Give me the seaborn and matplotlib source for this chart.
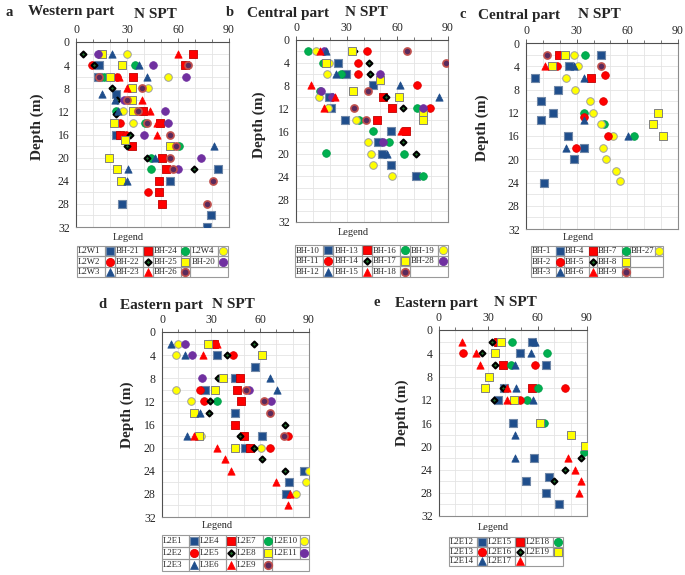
import matplotlib
matplotlib.use("Agg")
import matplotlib.pyplot as plt
import seaborn as sns
import pandas as pd
from matplotlib.patches import Rectangle
from matplotlib.ticker import MultipleLocator

W, H = 685, 575

# ---------------- data: (depth m, N SPT) ----------------
# a - Western part
a_L2W1 = [(4, 13.5), (6, 12.7), (9, 23.3), (16, 23.5), (22, 83.7), (24, 55.3), (28, 27.3), (30, 79.4), (32, 77.3)]
a_BH21 = [(2, 69), (4, 64), (6, 33.7), (12, 39.6), (14, 49.4), (16, 26), (18, 33.1), (20, 50.4), (22, 52.9), (24, 49), (26, 49), (28, 50.4)]
a_BH24 = [(4, 34.7), (6, 16.5), (12, 23.3), (14, 40.6), (18, 60.6), (20, 43.9), (22, 44.1)]
a_L2W4 = [(2, 30), (6, 54), (8, 42.5), (12, 27.8), (14, 33.3)]
a_L2W2 = [(4, 9.2), (6, 24.3), (14, 26), (16, 29.4), (26, 42.5)]
a_BH22 = [(2, 4), (4, 10.8), (8, 21), (10, 24.3), (12.5, 23.3), (16, 31.8), (18, 30.2), (20, 41.6), (22, 69.4)]
a_BH25 = [(2, 15), (4, 27), (6, 20), (8, 33), (10, 32.7), (12, 33.3), (14, 22.4), (17, 28.8), (18, 55.3), (20, 19.4), (22, 24.3), (24, 26.5)]
a_BH20 = [(2, 12.7), (4, 45.5), (6, 64.5), (10, 28), (12, 52.4), (14, 54.3), (16, 40), (20, 73.3), (22, 60.2)]
a_L2W3 = [(2, 21), (4, 37), (6, 42), (9, 15), (10, 23), (12, 24.5), (18, 81.4), (20, 46.5), (22, 30.4), (24, 29.8)]
a_BH23 = [(2, 60), (6, 25.5), (8, 29.8), (10, 38.6), (12, 43.5), (14, 47.5), (16, 47.8)]
a_BH26 = [(4, 66), (6, 13.5), (8, 39), (10, 30), (12, 36.3), (14, 41.6), (16, 55), (18, 58.6), (20, 55), (22, 57.3), (24, 80.8), (28, 77.3)]

# b - Central part
b_BH10 = [(4, 25.1), (6, 29.5), (8, 45.8), (10, 19.6), (12, 20.6), (14, 29.1), (16, 56.2), (18, 48.7), (20, 50.7), (22, 56), (24, 70.9)]
b_BH13 = [(10, 51.7), (12, 56.6), (14, 47.7), (16, 65.4)]
b_BH16 = [(2, 6.9), (4, 15.7), (6, 26.7), (9, 14.2), (12, 71.9), (14, 37.3), (16, 45.8), (18, 55.2), (19.8, 17.7), (20, 64), (24, 75.2)]
b_BH19 = [(2, 12), (4, 19.6), (6, 18.3), (10, 13.4), (12, 18.7), (14, 35.6), (18, 42.4), (20, 44.4), (22, 45.4), (24, 57)]
b_BH11 = [(2, 41.8), (4, 36.9), (6, 36.5), (8, 71.9), (12, 79.6)]
b_BH14 = [(2, 34.5), (4, 43.4), (6, 43.8), (10, 53), (12, 63.5), (18, 63.5), (20, 71.3)]
b_BH17 = [(2, 33.4), (4, 17.7), (7, 49.7), (9, 34), (10, 61.1), (13, 75.2), (14, 75.2)]
b_BH28 = [(2, 16.5), (6, 49.7), (9, 15), (10, 21.6), (12, 75.2), (18, 51.3)]
b_BH12 = [(2, 17.5), (6, 23.8), (8, 61.5), (10, 84.5), (20, 53.6)]
b_BH15 = [(2, 14), (8, 9), (10, 22.8), (12, 16.7), (16, 61.9)]
b_BH18 = [(2, 66), (4, 88.6), (9, 42.4), (12, 34.4), (14, 41.3)]

# c - Central part
c_BH1 = [(2, 44.7), (4, 25.4), (6, 5.3), (8, 19.1), (10, 8.7), (12, 15.7), (13.3, 8.9), (16, 25), (18, 34.4), (20, 28.3), (24, 10.6)]
c_BH4 = [(2, 19.7), (6, 38.2)]
c_BH7 = [(2, 34.8), (12, 34.4), (14, 46.3), (16, 63.8)]
c_BH27 = [(2, 28.5), (4, 30.9), (6, 23.6), (8, 28.9), (10, 37.8), (12, 39.8), (14, 44.3), (16, 51.6), (18, 45.3), (20, 47.6), (22, 53.1), (23.8, 55.5)]
c_BH2 = [(4, 18.1), (5.5, 46.7), (10, 45.7), (12.8, 34.3), (16, 48.6), (18, 29.9)]
c_BH5 = []
c_BH8 = [(2, 23), (4, 15.2), (12, 78.1), (14, 75.2), (16, 81.1)]
c_BH3 = [(4, 28.5), (6, 34.4), (13.3, 34.4), (16, 60.4), (18, 23.6)]
c_BH6 = [(4, 11.2)]
c_BH9 = [(2, 12.6), (4, 44.7)]

# d - Eastern part
d_L2E1 = [(2, 30.6), (4, 33.7), (6, 56.7), (8, 44.5), (10, 26.1), (14, 44.5), (18, 61.2), (20, 51), (24, 86.7), (26, 77.8), (28, 76.1)]
d_L2E4 = [(2, 32), (8, 47.6), (10, 45.9), (12, 48.6), (16, 44.5), (18, 50.2), (20, 53.7)]
d_L2E7 = [(12, 33.7)]
d_L2E10 = [(2, 9.8), (4, 8.8), (10, 8.4), (12, 18), (18, 23.7), (20, 60.8), (24, 89.8), (26, 88.4), (28, 82.2)]
d_L2E2 = [(2, 32.5), (4, 43.5), (10, 23.5), (12, 25.5), (18, 77.1), (20, 65.9)]
d_L2E5 = [(2, 56.1), (4, 39.8), (8, 34.3), (12, 29.2), (14, 28.6), (16, 75.5), (18, 48), (20, 56.1), (22, 61.2), (24, 75.5)]
d_L2E8 = [(2, 28.2), (4, 61.2), (8, 37.3), (10, 32.2), (14, 19.6), (18, 22.4), (20, 44.9)]
d_L2E11 = [(2, 14.3), (4, 18.4), (8, 24.5), (10, 53.3), (12, 66.9)]
d_L2E3 = [(2, 5.7), (4, 14.3), (8, 66.3), (10, 70.6), (14, 23.5), (18, 15.5)]
d_L3E6 = [(2, 33.7), (4, 25.1), (18, 19.6), (20, 33.7), (22, 38.8), (24, 42.4), (26, 70), (28, 78.2), (30, 77.1)]
d_L2E9 = [(10, 51.6), (12, 62.2), (14, 66.3), (18, 74.5)]

# e - Eastern part
e_L2E12 = [(2, 56.6), (4, 49.5), (6, 65.3), (10, 39.4), (12, 35.9), (16, 45), (22, 57.6), (25.3, 66.7), (26, 53.1), (28, 65.3), (30, 72.8)]
e_L2E15 = [(2, 36), (6, 38.9), (10, 56.6)]
e_L2E18 = [(2, 44.4), (4, 65.7), (6, 44), (10, 60), (12, 53.5), (16, 64.1), (21, 88)]
e_L2E13 = [(2, 35.3), (4, 14.4), (6, 58.6), (10, 76.5), (12, 49.1)]
e_L2E16 = [(2, 32.3), (4, 26.2), (6, 34.3), (10, 38.7), (12, 33.3), (22, 86.4), (24, 76.5), (26, 70.2)]
e_L2E19 = [(2, 37.7), (4, 34.3), (8, 30.2), (10, 28.2), (12, 45.4), (16, 61.7), (18, 80.3), (20, 88.6)]
e_L2E14 = [(2, 58.6), (4, 56.2), (6, 46.5), (10, 47.1), (12, 57.2), (18, 46.5), (22, 46)]
e_L2E17 = [(2, 14), (4, 22.7), (6, 25.2), (10, 41.4), (12, 41.4), (22, 78.5), (24, 83), (26, 86.4), (28, 85.4)]

# ---------------- marker styles ----------------
STYLE = {
    "sq_blue": dict(marker="s", color="#1F4E8C", edgecolor="#7088A8", linewidth=0.8, s=28),
    "sq_red": dict(marker="s", color="#FF0000", edgecolor="#C00000", linewidth=0.6, s=28),
    "ci_green": dict(marker="o", color="#00B050", edgecolor="#00A048", linewidth=0.6, s=30),
    "ci_yellow": dict(marker="o", color="#FFFF00", edgecolor="#A0A0A0", linewidth=0.7, s=30),
    "ci_red": dict(marker="o", color="#FF0000", edgecolor="#E00000", linewidth=0.6, s=30),
    "dia": dict(marker="D", color="#1E6B2A", edgecolor="black", linewidth=1.5, s=9),
    "sq_yellow": dict(marker="s", color="#FFFF00", edgecolor="#808080", linewidth=0.7, s=28),
    "ci_purple": dict(marker="o", color="#7030A0", edgecolor="#7030A0", linewidth=0.6, s=30),
    "tri_blue": dict(marker="^", color="#1F4E8C", edgecolor="#1F4E8C", linewidth=0.5, s=28),
    "tri_red": dict(marker="^", color="#FF0000", edgecolor="#FF0000", linewidth=0.5, s=28),
    "ci_maroon": dict(marker="o", color="#5A2A5C", edgecolor="#C0504D", linewidth=1.2, s=26),
}

# legend grids (rows of (label, style, data)); None = empty cell
grid_a = [[("L2W1", "sq_blue", a_L2W1), ("BH-21", "sq_red", a_BH21), ("BH-24", "ci_green", a_BH24), ("L2W4", "ci_yellow", a_L2W4)],
          [("L2W2", "ci_red", a_L2W2), ("BH-22", "dia", a_BH22), ("BH-25", "sq_yellow", a_BH25), ("BH-20", "ci_purple", a_BH20)],
          [("L2W3", "tri_blue", a_L2W3), ("BH-23", "tri_red", a_BH23), ("BH-26", "ci_maroon", a_BH26), None]]
grid_b = [[("BH-10", "sq_blue", b_BH10), ("BH-13", "sq_red", b_BH13), ("BH-16", "ci_green", b_BH16), ("BH-19", "ci_yellow", b_BH19)],
          [("BH-11", "ci_red", b_BH11), ("BH-14", "dia", b_BH14), ("BH-17", "sq_yellow", b_BH17), ("BH-28", "ci_purple", b_BH28)],
          [("BH-12", "tri_blue", b_BH12), ("BH-15", "tri_red", b_BH15), ("BH-18", "ci_maroon", b_BH18), None]]
grid_c = [[("BH-1", "sq_blue", c_BH1), ("BH-4", "sq_red", c_BH4), ("BH-7", "ci_green", c_BH7), ("BH-27", "ci_yellow", c_BH27)],
          [("BH-2", "ci_red", c_BH2), ("BH-5", "dia", c_BH5), ("BH-8", "sq_yellow", c_BH8), None],
          [("BH-3", "tri_blue", c_BH3), ("BH-6", "tri_red", c_BH6), ("BH-9", "ci_maroon", c_BH9), None]]
grid_d = [[("L2E1", "sq_blue", d_L2E1), ("L2E4", "sq_red", d_L2E4), ("L2E7", "ci_green", d_L2E7), ("L2E10", "ci_yellow", d_L2E10)],
          [("L2E2", "ci_red", d_L2E2), ("L2E5", "dia", d_L2E5), ("L2E8", "sq_yellow", d_L2E8), ("L2E11", "ci_purple", d_L2E11)],
          [("L2E3", "tri_blue", d_L2E3), ("L3E6", "tri_red", d_L3E6), ("L2E9", "ci_maroon", d_L2E9), None]]
grid_e = [[("L2E12", "sq_blue", e_L2E12), ("L2E15", "sq_red", e_L2E15), ("L2E18", "ci_green", e_L2E18)],
          [("L2E13", "ci_red", e_L2E13), ("L2E16", "dia", e_L2E16), ("L2E19", "sq_yellow", e_L2E19)],
          [("L2E14", "tri_blue", e_L2E14), ("L2E17", "tri_red", e_L2E17), None]]

sns.set_style("white")
plt.rcParams["font.family"] = ["Liberation Serif", "DejaVu Serif"]

fig = plt.figure(figsize=(W / 100, H / 100), dpi=100)


def box(x0, y0, x1, y1):
    return fig.add_axes([x0 / W, 1 - y1 / H, (x1 - x0) / W, (y1 - y0) / H])


def ftext(x, y, s, **kw):
    fig.text(x / W, 1 - y / H, s, **kw)


def draw_panel(grid, ax_box, ylab_pos, leg_box, leg_title, letter, part, nspt):
    ax = box(*ax_box)
    for row in grid:
        for item in row:
            if item is None or len(item[2]) == 0:
                continue
            df = pd.DataFrame(item[2], columns=["depth", "N"])
            sns.scatterplot(data=df, x="N", y="depth", ax=ax, zorder=3, legend=False, **STYLE[item[1]])
    ax.set_xlim(0, 90)
    ax.set_ylim(32, 0)
    ax.xaxis.tick_top()
    ax.set_xticks([0, 30, 60, 90])
    ax.xaxis.set_minor_locator(MultipleLocator(10))
    ax.set_yticks(range(0, 33, 4))
    ax.yaxis.set_minor_locator(MultipleLocator(2))
    ax.grid(which="both", color="#E4E4E4", linewidth=0.6)
    ax.set_axisbelow(True)
    ax.tick_params(which="major", labelsize=8.5, length=3, width=0.7, color="#606060", pad=1.5)
    ax.tick_params(which="minor", length=2, width=0.6, color="#606060")
    for sp in ax.spines.values():
        sp.set_color("#8C8C8C")
        sp.set_linewidth(0.8)
    ax.spines["left"].set_color("#505050")
    ax.spines["top"].set_color("#505050")
    ax.set_xlabel("")
    ax.set_ylabel("Depth (m)", fontsize=11, fontweight="bold")
    ax.yaxis.set_label_coords(*ylab_pos)

    # titles
    ftext(letter[1], letter[2], letter[0], fontsize=10.5, fontweight="bold", va="center")
    ftext(part[1], part[2], part[0], fontsize=11, fontweight="bold", va="center")
    ftext(nspt[0], nspt[1], "N SPT", fontsize=11, fontweight="bold", va="center", ha="center")

    # legend table
    ftext(leg_title[0], leg_title[1], "Legend", fontsize=7.5, ha="center", va="center")
    lax = box(*leg_box)
    ncol = len(grid[0])
    LW, MW = 2.9, 1.0
    lax.set_xlim(0, ncol * (LW + MW))
    lax.set_ylim(3, 0)
    lax.axis("off")
    for r, row in enumerate(grid):
        for c, item in enumerate(row):
            x0 = c * (LW + MW)
            if item is None:
                lax.add_patch(Rectangle((x0, r), LW + MW, 1, fill=False, ec="#9A9A9A", lw=0.8, clip_on=False))
                continue
            lax.add_patch(Rectangle((x0, r), LW, 1, fill=False, ec="#9A9A9A", lw=0.8, clip_on=False))
            lax.add_patch(Rectangle((x0 + LW, r), MW, 1, fill=False, ec="#9A9A9A", lw=0.8, clip_on=False))
            lax.text(x0 + 0.12, r + 0.52, item[0], fontsize=6.3, va="center", ha="left")
            st = dict(STYLE[item[1]])
            st["s"] = st["s"] * 1.15
            lax.scatter([x0 + LW + MW / 2], [r + 0.5], c=st.pop("color"), clip_on=False, zorder=3, **st)


draw_panel(grid_a, (76, 42, 229, 227), (-0.21, 0.54), (77, 246, 228, 277), (128, 237),
           ("a", 5, 12), ("Western part", 28, 12), (155, 15))
draw_panel(grid_b, (296, 40, 448, 222), (-0.197, 0.533), (295, 245, 448, 277), (353, 233),
           ("b", 226, 12), ("Central part", 247, 13), (366, 12))
draw_panel(grid_c, (526, 43, 678, 229), (-0.243, 0.543), (531, 246, 663, 277), (578, 237),
           ("c", 459, 15), ("Central part", 478, 15), (599, 15))
draw_panel(grid_d, (162, 332, 309, 517), (-0.19, 0.55), (162, 535, 309, 571), (217, 526),
           ("d", 98, 305), ("Eastern part", 120, 305), (233, 305))
draw_panel(grid_e, (439, 330, 587, 516), (-0.203, 0.554), (449, 537, 563, 566), (493, 527),
           ("e", 373, 303), ("Eastern part", 395, 303), (515, 303))

fig.savefig("out.png", dpi=100)
